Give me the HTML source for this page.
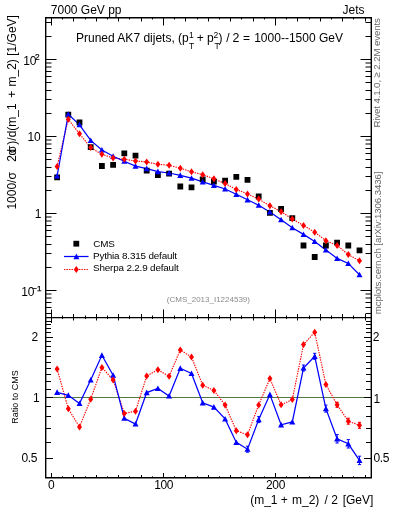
<!DOCTYPE html><html><head><meta charset="utf-8"><style>html,body{margin:0;padding:0;background:#fff;overflow:hidden}svg{display:block;will-change:transform}text{font-family:"Liberation Sans",sans-serif}</style></head><body>
<svg width="393" height="512" viewBox="0 0 393 512">
<path d="M45.5 397.5H371.5" stroke="#4f7a42" stroke-width="1.2" fill="none"/>
<path d="M51.5 17.5v8M51.5 317.5v-8M51.5 317.5v5.5M51.5 477.5v-4.5M62.5 17.5v2M62.5 317.5v-2M62.5 317.5v1.5M62.5 477.5v-1.2M73.5 17.5v4M73.5 317.5v-3.5M73.5 317.5v3M73.5 477.5v-2.5M85.5 17.5v2M85.5 317.5v-2M85.5 317.5v1.5M85.5 477.5v-1.2M96.5 17.5v4M96.5 317.5v-3.5M96.5 317.5v3M96.5 477.5v-2.5M107.5 17.5v2M107.5 317.5v-2M107.5 317.5v1.5M107.5 477.5v-1.2M118.5 17.5v4M118.5 317.5v-3.5M118.5 317.5v3M118.5 477.5v-2.5M129.5 17.5v2M129.5 317.5v-2M129.5 317.5v1.5M129.5 477.5v-1.2M141.5 17.5v4M141.5 317.5v-3.5M141.5 317.5v3M141.5 477.5v-2.5M152.5 17.5v2M152.5 317.5v-2M152.5 317.5v1.5M152.5 477.5v-1.2M163.5 17.5v8M163.5 317.5v-8M163.5 317.5v5.5M163.5 477.5v-4.5M174.5 17.5v2M174.5 317.5v-2M174.5 317.5v1.5M174.5 477.5v-1.2M185.5 17.5v4M185.5 317.5v-3.5M185.5 317.5v3M185.5 477.5v-2.5M197.5 17.5v2M197.5 317.5v-2M197.5 317.5v1.5M197.5 477.5v-1.2M208.5 17.5v4M208.5 317.5v-3.5M208.5 317.5v3M208.5 477.5v-2.5M219.5 17.5v2M219.5 317.5v-2M219.5 317.5v1.5M219.5 477.5v-1.2M230.5 17.5v4M230.5 317.5v-3.5M230.5 317.5v3M230.5 477.5v-2.5M241.5 17.5v2M241.5 317.5v-2M241.5 317.5v1.5M241.5 477.5v-1.2M253.5 17.5v4M253.5 317.5v-3.5M253.5 317.5v3M253.5 477.5v-2.5M264.5 17.5v2M264.5 317.5v-2M264.5 317.5v1.5M264.5 477.5v-1.2M275.5 17.5v8M275.5 317.5v-8M275.5 317.5v5.5M275.5 477.5v-4.5M286.5 17.5v2M286.5 317.5v-2M286.5 317.5v1.5M286.5 477.5v-1.2M297.5 17.5v4M297.5 317.5v-3.5M297.5 317.5v3M297.5 477.5v-2.5M309.5 17.5v2M309.5 317.5v-2M309.5 317.5v1.5M309.5 477.5v-1.2M320.5 17.5v4M320.5 317.5v-3.5M320.5 317.5v3M320.5 477.5v-2.5M331.5 17.5v2M331.5 317.5v-2M331.5 317.5v1.5M331.5 477.5v-1.2M342.5 17.5v4M342.5 317.5v-3.5M342.5 317.5v3M342.5 477.5v-2.5M353.5 17.5v2M353.5 317.5v-2M353.5 317.5v1.5M353.5 477.5v-1.2M365.5 17.5v4M365.5 317.5v-3.5M365.5 317.5v3M365.5 477.5v-2.5M45.5 313.5h6M371.5 313.5h-6M45.5 307.5h6M371.5 307.5h-6M45.5 302.5h6M371.5 302.5h-6M45.5 298.0h6M371.5 298.0h-6M45.5 294.0h6M371.5 294.0h-6M45.5 290.5h11M371.5 290.5h-11M45.5 267.5h6M371.5 267.5h-6M45.5 253.5h6M371.5 253.5h-6M45.5 244.5h6M371.5 244.5h-6M45.5 236.5h6M371.5 236.5h-6M45.5 230.5h6M371.5 230.5h-6M45.5 225.5h6M371.5 225.5h-6M45.5 221.0h6M371.5 221.0h-6M45.5 217.0h6M371.5 217.0h-6M45.5 213.5h11M371.5 213.5h-11M45.5 190.5h6M371.5 190.5h-6M45.5 176.5h6M371.5 176.5h-6M45.5 167.5h6M371.5 167.5h-6M45.5 159.5h6M371.5 159.5h-6M45.5 153.5h6M371.5 153.5h-6M45.5 148.5h6M371.5 148.5h-6M45.5 144.0h6M371.5 144.0h-6M45.5 140.0h6M371.5 140.0h-6M45.5 136.5h11M371.5 136.5h-11M45.5 113.5h6M371.5 113.5h-6M45.5 99.5h6M371.5 99.5h-6M45.5 90.5h6M371.5 90.5h-6M45.5 82.5h6M371.5 82.5h-6M45.5 76.5h6M371.5 76.5h-6M45.5 71.5h6M371.5 71.5h-6M45.5 67.0h6M371.5 67.0h-6M45.5 63.0h6M371.5 63.0h-6M45.5 59.5h11M371.5 59.5h-11M45.5 36.5h6M371.5 36.5h-6M45.5 22.5h6M371.5 22.5h-6M45.5 477.5h5.5M371.5 477.5h-5.5M45.5 458.5h7.5M371.5 458.5h-7.5M45.5 442.5h5.5M371.5 442.5h-5.5M45.5 428.5h5.5M371.5 428.5h-5.5M45.5 416.5h5.5M371.5 416.5h-5.5M45.5 406.5h5.5M371.5 406.5h-5.5M45.5 397.5h7.5M371.5 397.5h-7.5M45.5 389.5h5.5M371.5 389.5h-5.5M45.5 381.5h5.5M371.5 381.5h-5.5M45.5 374.5h5.5M371.5 374.5h-5.5M45.5 368.5h5.5M371.5 368.5h-5.5M45.5 362.5h5.5M371.5 362.5h-5.5M45.5 356.5h5.5M371.5 356.5h-5.5M45.5 351.5h5.5M371.5 351.5h-5.5M45.5 346.5h5.5M371.5 346.5h-5.5M45.5 341.5h5.5M371.5 341.5h-5.5M45.5 337.5h7.5M371.5 337.5h-7.5M45.5 332.5h5.5M371.5 332.5h-5.5M45.5 328.5h5.5M371.5 328.5h-5.5M45.5 324.5h5.5M371.5 324.5h-5.5M45.5 321.5h5.5M371.5 321.5h-5.5M45.5 317.5h5.5M371.5 317.5h-5.5" stroke="#000" stroke-width="1" fill="none"/>
<path d="M57.1 166.4 L68.3 119.3 L79.5 133.8 L90.7 147.6 L101.9 154.3 L113.1 158.0 L124.3 159.3 L135.5 160.9 L146.7 162.0 L157.9 164.2 L169.1 165.3 L180.3 168.2 L191.5 171.8 L202.7 174.7 L213.9 178.8 L225.1 183.5 L236.3 189.4 L247.5 194.0 L258.7 199.1 L269.9 205.7 L281.1 211.7 L292.3 218.9 L303.5 225.5 L314.7 232.2 L325.9 240.7 L337.1 245.4 L348.3 254.6 L359.5 260.8" stroke="#ff0000" stroke-width="1.15" stroke-dasharray="1.4 1.1" fill="none"/>
<path d="M57.1 176.0 L68.3 114.2 L79.5 124.8 L90.7 140.4 L101.9 150.0 L113.1 156.2 L124.3 161.2 L135.5 166.1 L146.7 168.6 L157.9 171.6 L169.1 173.0 L180.3 175.3 L191.5 178.2 L202.7 181.9 L213.9 185.4 L225.1 189.0 L236.3 194.3 L247.5 199.8 L258.7 205.2 L269.9 212.0 L281.1 219.7 L292.3 227.7 L303.5 234.4 L314.7 241.4 L325.9 249.9 L337.1 258.4 L348.3 263.4 L359.5 274.7" stroke="#0000ff" stroke-width="1.25" fill="none"/>
<path d="M57.1 368.9 L68.3 408.8 L79.5 426.9 L90.7 399.2 L101.9 367.4 L113.1 379.9 L124.3 413.4 L135.5 411.3 L146.7 376.0 L157.9 369.8 L169.1 376.2 L180.3 350.0 L191.5 357.0 L202.7 385.2 L213.9 390.5 L225.1 405.0 L236.3 430.8 L247.5 434.8 L258.7 404.9 L269.9 378.5 L281.1 404.8 L292.3 399.6 L303.5 344.6 L314.7 332.2 L325.9 384.5 L337.1 404.8 L348.3 421.2 L359.5 425.3" stroke="#ff0000" stroke-width="1.15" stroke-dasharray="1.4 1.1" fill="none"/>
<path d="M57.1 392.3 L68.3 395.3 L79.5 403.5 L90.7 380.0 L101.9 355.3 L113.1 375.2 L124.3 418.2 L135.5 424.0 L146.7 392.6 L157.9 388.5 L169.1 396.0 L180.3 368.3 L191.5 373.5 L202.7 402.8 L213.9 407.1 L225.1 418.9 L236.3 442.4 L247.5 449.2 L258.7 419.6 L269.9 394.6 L281.1 424.8 L292.3 421.9 L303.5 368.0 L314.7 356.3 L325.9 408.6 L337.1 438.8 L348.3 443.8 L359.5 460.4" stroke="#0000ff" stroke-width="1.25" fill="none"/>
<path d="M54.2 174.4h5.8v5.8h-5.8ZM65.4 111.8h5.8v5.8h-5.8ZM76.6 119.6h5.8v5.8h-5.8ZM87.8 144.3h5.8v5.8h-5.8ZM99.0 163.1h5.8v5.8h-5.8ZM110.2 161.9h5.8v5.8h-5.8ZM121.4 150.4h5.8v5.8h-5.8ZM132.6 152.7h5.8v5.8h-5.8ZM143.8 167.7h5.8v5.8h-5.8ZM155.0 172.2h5.8v5.8h-5.8ZM166.2 170.8h5.8v5.8h-5.8ZM177.4 183.6h5.8v5.8h-5.8ZM188.6 184.5h5.8v5.8h-5.8ZM199.8 176.5h5.8v5.8h-5.8ZM211.0 178.8h5.8v5.8h-5.8ZM222.2 177.7h5.8v5.8h-5.8ZM233.4 173.9h5.8v5.8h-5.8ZM244.6 177.0h5.8v5.8h-5.8ZM255.8 193.6h5.8v5.8h-5.8ZM267.0 209.9h5.8v5.8h-5.8ZM278.2 206.1h5.8v5.8h-5.8ZM289.4 215.3h5.8v5.8h-5.8ZM300.6 242.6h5.8v5.8h-5.8ZM311.8 254.1h5.8v5.8h-5.8ZM323.0 242.6h5.8v5.8h-5.8ZM334.2 239.8h5.8v5.8h-5.8ZM345.4 242.6h5.8v5.8h-5.8ZM356.6 247.4h5.8v5.8h-5.8Z" fill="#000"/>
<path d="M57.1 173.0L60.1 178.6L54.1 178.6ZM68.3 111.2L71.3 116.8L65.3 116.8ZM79.5 121.8L82.5 127.3L76.5 127.3ZM90.7 137.4L93.7 143.0L87.7 143.0ZM101.9 147.0L104.9 152.6L98.9 152.6ZM113.1 153.2L116.1 158.8L110.1 158.8ZM124.3 158.2L127.3 163.8L121.3 163.8ZM135.5 163.1L138.5 168.7L132.5 168.7ZM146.7 165.6L149.7 171.2L143.7 171.2ZM157.9 168.6L160.9 174.2L154.9 174.2ZM169.1 170.0L172.1 175.6L166.1 175.6ZM180.3 172.3L183.3 177.9L177.3 177.9ZM191.5 175.2L194.5 180.8L188.5 180.8ZM202.7 178.9L205.7 184.5L199.7 184.5ZM213.9 182.4L216.9 188.0L210.9 188.0ZM225.1 186.0L228.1 191.6L222.1 191.6ZM236.3 191.3L239.3 196.9L233.3 196.9ZM247.5 196.8L250.5 202.4L244.5 202.4ZM258.7 202.2L261.7 207.8L255.7 207.8ZM269.9 209.0L272.9 214.6L266.9 214.6ZM281.1 216.7L284.1 222.2L278.1 222.2ZM292.3 224.7L295.3 230.2L289.3 230.2ZM303.5 231.4L306.5 237.0L300.5 237.0ZM314.7 238.4L317.7 244.0L311.7 244.0ZM325.9 246.9L328.9 252.5L322.9 252.5ZM337.1 255.4L340.1 260.9L334.1 260.9ZM348.3 260.4L351.3 265.9L345.3 265.9ZM359.5 271.7L362.5 277.2L356.5 277.2Z" fill="#0000ff"/>
<path d="M57.1 162.9L59.6 166.4L57.1 169.9L54.6 166.4ZM68.3 115.8L70.8 119.3L68.3 122.8L65.8 119.3ZM79.5 130.3L82.0 133.8L79.5 137.3L77.0 133.8ZM90.7 144.1L93.2 147.6L90.7 151.1L88.2 147.6ZM101.9 150.8L104.4 154.3L101.9 157.8L99.4 154.3ZM113.1 154.5L115.6 158.0L113.1 161.5L110.6 158.0ZM124.3 155.8L126.8 159.3L124.3 162.8L121.8 159.3ZM135.5 157.4L138.0 160.9L135.5 164.4L133.0 160.9ZM146.7 158.5L149.2 162.0L146.7 165.5L144.2 162.0ZM157.9 160.7L160.4 164.2L157.9 167.7L155.4 164.2ZM169.1 161.8L171.6 165.3L169.1 168.8L166.6 165.3ZM180.3 164.7L182.8 168.2L180.3 171.7L177.8 168.2ZM191.5 168.3L194.0 171.8L191.5 175.3L189.0 171.8ZM202.7 171.2L205.2 174.7L202.7 178.2L200.2 174.7ZM213.9 175.3L216.4 178.8L213.9 182.3L211.4 178.8ZM225.1 180.0L227.6 183.5L225.1 187.0L222.6 183.5ZM236.3 185.9L238.8 189.4L236.3 192.9L233.8 189.4ZM247.5 190.5L250.0 194.0L247.5 197.5L245.0 194.0ZM258.7 195.6L261.2 199.1L258.7 202.6L256.2 199.1ZM269.9 202.2L272.4 205.7L269.9 209.2L267.4 205.7ZM281.1 208.2L283.6 211.7L281.1 215.2L278.6 211.7ZM292.3 215.4L294.8 218.9L292.3 222.4L289.8 218.9ZM303.5 222.0L306.0 225.5L303.5 229.0L301.0 225.5ZM314.7 228.7L317.2 232.2L314.7 235.7L312.2 232.2ZM325.9 237.2L328.4 240.7L325.9 244.2L323.4 240.7ZM337.1 241.9L339.6 245.4L337.1 248.9L334.6 245.4ZM348.3 251.1L350.8 254.6L348.3 258.1L345.8 254.6ZM359.5 257.3L362.0 260.8L359.5 264.3L357.0 260.8Z" fill="#ff0000"/>
<path d="M247.5 446.2V452.2M245.9 446.2h3.2M245.9 452.2h3.2M258.7 416.6V422.6M257.1 416.6h3.2M257.1 422.6h3.2M303.5 365.0V371.0M301.9 365.0h3.2M301.9 371.0h3.2M314.7 353.3V359.3M313.1 353.3h3.2M313.1 359.3h3.2M325.9 405.1V412.1M324.3 405.1h3.2M324.3 412.1h3.2M337.1 434.6V443.0M335.5 434.6h3.2M335.5 443.0h3.2M348.3 439.6V448.0M346.7 439.6h3.2M346.7 448.0h3.2M359.5 456.2V464.6M357.9 456.2h3.2M357.9 464.6h3.2" stroke="#0000ff" stroke-width="1" fill="none"/>
<path d="M337.1 402.3V407.3M335.5 402.3h3.2M335.5 407.3h3.2M348.3 418.2V424.2M346.7 418.2h3.2M346.7 424.2h3.2M359.5 422.3V428.3M357.9 422.3h3.2M357.9 428.3h3.2" stroke="#ff0000" stroke-width="1" fill="none"/>
<path d="M57.1 389.3L60.1 394.9L54.1 394.9ZM68.3 392.3L71.3 397.9L65.3 397.9ZM79.5 400.5L82.5 406.1L76.5 406.1ZM90.7 377.0L93.7 382.6L87.7 382.6ZM101.9 352.3L104.9 357.9L98.9 357.9ZM113.1 372.2L116.1 377.8L110.1 377.8ZM124.3 415.2L127.3 420.8L121.3 420.8ZM135.5 421.0L138.5 426.6L132.5 426.6ZM146.7 389.6L149.7 395.2L143.7 395.2ZM157.9 385.5L160.9 391.1L154.9 391.1ZM169.1 393.0L172.1 398.6L166.1 398.6ZM180.3 365.3L183.3 370.9L177.3 370.9ZM191.5 370.5L194.5 376.1L188.5 376.1ZM202.7 399.8L205.7 405.4L199.7 405.4ZM213.9 404.1L216.9 409.7L210.9 409.7ZM225.1 415.9L228.1 421.4L222.1 421.4ZM236.3 439.4L239.3 444.9L233.3 444.9ZM247.5 446.2L250.5 451.8L244.5 451.8ZM258.7 416.6L261.7 422.2L255.7 422.2ZM269.9 391.6L272.9 397.2L266.9 397.2ZM281.1 421.8L284.1 427.4L278.1 427.4ZM292.3 418.9L295.3 424.4L289.3 424.4ZM303.5 365.0L306.5 370.6L300.5 370.6ZM314.7 353.3L317.7 358.9L311.7 358.9ZM325.9 405.6L328.9 411.2L322.9 411.2ZM337.1 435.8L340.1 441.4L334.1 441.4ZM348.3 440.8L351.3 446.4L345.3 446.4ZM359.5 457.4L362.5 462.9L356.5 462.9Z" fill="#0000ff"/>
<path d="M57.1 365.4L59.6 368.9L57.1 372.4L54.6 368.9ZM68.3 405.3L70.8 408.8L68.3 412.3L65.8 408.8ZM79.5 423.4L82.0 426.9L79.5 430.4L77.0 426.9ZM90.7 395.7L93.2 399.2L90.7 402.7L88.2 399.2ZM101.9 363.9L104.4 367.4L101.9 370.9L99.4 367.4ZM113.1 376.4L115.6 379.9L113.1 383.4L110.6 379.9ZM124.3 409.9L126.8 413.4L124.3 416.9L121.8 413.4ZM135.5 407.8L138.0 411.3L135.5 414.8L133.0 411.3ZM146.7 372.5L149.2 376.0L146.7 379.5L144.2 376.0ZM157.9 366.3L160.4 369.8L157.9 373.3L155.4 369.8ZM169.1 372.7L171.6 376.2L169.1 379.7L166.6 376.2ZM180.3 346.5L182.8 350.0L180.3 353.5L177.8 350.0ZM191.5 353.5L194.0 357.0L191.5 360.5L189.0 357.0ZM202.7 381.7L205.2 385.2L202.7 388.7L200.2 385.2ZM213.9 387.0L216.4 390.5L213.9 394.0L211.4 390.5ZM225.1 401.5L227.6 405.0L225.1 408.5L222.6 405.0ZM236.3 427.3L238.8 430.8L236.3 434.3L233.8 430.8ZM247.5 431.3L250.0 434.8L247.5 438.3L245.0 434.8ZM258.7 401.4L261.2 404.9L258.7 408.4L256.2 404.9ZM269.9 375.0L272.4 378.5L269.9 382.0L267.4 378.5ZM281.1 401.3L283.6 404.8L281.1 408.3L278.6 404.8ZM292.3 396.1L294.8 399.6L292.3 403.1L289.8 399.6ZM303.5 341.1L306.0 344.6L303.5 348.1L301.0 344.6ZM314.7 328.7L317.2 332.2L314.7 335.7L312.2 332.2ZM325.9 381.0L328.4 384.5L325.9 388.0L323.4 384.5ZM337.1 401.3L339.6 404.8L337.1 408.3L334.6 404.8ZM348.3 417.7L350.8 421.2L348.3 424.7L345.8 421.2ZM359.5 421.8L362.0 425.3L359.5 428.8L357.0 425.3Z" fill="#ff0000"/>
<path d="M45.7 17.7H371.3V477.7H45.7Z M45.7 317.6H371.3" stroke="#000" stroke-width="1.4" fill="none"/>
<path d="M73.4 240.8h5.8v5.8h-5.8Z" fill="#000"/>
<path d="M64 256.5H88.5" stroke="#0000ff" stroke-width="1.25"/>
<path d="M76.4 253.6L79.4 259.2L73.4 259.2Z" fill="#0000ff"/>
<path d="M64 269.5H88.5" stroke="#ff0000" stroke-width="1.15" stroke-dasharray="1.4 1.1"/>
<path d="M76.3 266.0L78.8 269.5L76.3 273.0L73.8 269.5Z" fill="#ff0000"/>
<g font-size="9.9" fill="#000" letter-spacing="-0.17">
<text x="93.2" y="247.2">CMS</text>
<text x="93" y="258.8">Pythia 8.315 default</text>
<text x="93" y="271">Sherpa 2.2.9 default</text>
</g>
<text x="166.8" y="301.6" font-size="8" fill="#8a8a8a">(CMS_2013_I1224539)</text>
<text x="50.8" y="14" font-size="12">7000 GeV pp</text>
<text x="342.6" y="14.3" font-size="12">Jets</text>
<g font-size="12">
<text x="76" y="41.5">Pruned AK7 dijets, (p</text>
<text x="196.8" y="41.5">+</text>
<text x="207" y="41.5">p</text>
<text x="218.5" y="41.5">)</text>
<text x="226.2" y="41.5">/</text>
<text x="232.6" y="41.5" font-size="12.4">2</text>
<text x="242.9" y="41.5">=</text>
<text x="254.2" y="41.5">1000--1500 GeV</text>
</g>
<g font-size="8.5">
<text x="189" y="38">1</text><text x="213.4" y="38">2</text>
<text x="189" y="48.7" font-size="8.6">T</text><text x="214.5" y="48.7" font-size="8.6">T</text>
</g>
<g font-size="12" letter-spacing="-0.3">
<text x="23.3" y="64.8">10</text><text x="35" y="59.9" font-size="8.3" stroke="#000" stroke-width="0.2">2</text>
<text x="27.6" y="141">10</text>
<text x="34.8" y="217.8">1</text>
<text x="21.3" y="296">10</text><text x="32.6" y="290.8" font-size="8" stroke="#000" stroke-width="0.25">−1</text>
</g>
<g font-size="12" letter-spacing="-0.3">
<text x="31.6" y="341">2</text>
<text x="33" y="402">1</text>
<text x="21.4" y="462">0.5</text>
<text x="372.8" y="341">2</text>
<text x="373.6" y="402.5">1</text>
<text x="373.4" y="462">0.5</text>
</g>
<g font-size="12" letter-spacing="-0.3" text-anchor="middle">
<text x="51.3" y="488.9">0</text><text x="163.7" y="488.9">100</text><text x="275.5" y="488.9">200</text>
</g>
<g font-size="12">
<text x="250.2" y="503.8">(m_1</text>
<text x="280.8" y="503.8">+</text>
<text x="292" y="503.8">m_2)</text>
<text x="324.5" y="503.8">/</text>
<text x="331.2" y="503.8">2</text>
<text x="342.7" y="503.8">[GeV]</text>
</g>
<text transform="translate(16.3,209.6) rotate(-90)" font-size="12">1000/σ</text>
<text transform="translate(16.3,161.8) rotate(-90)" font-size="12">2</text>
<text transform="translate(16.3,155.5) rotate(-90)" font-size="12">d</text>
<text transform="translate(16.3,153) rotate(-90)" font-size="12">σ</text>
<text transform="translate(16.3,144.7) rotate(-90)" font-size="12">)/d(m_1</text>
<text transform="translate(16.3,97.8) rotate(-90)" font-size="12">+</text>
<text transform="translate(16.3,86.5) rotate(-90)" font-size="12">m_2)</text>
<text transform="translate(16.3,55.8) rotate(-90)" font-size="12">[1/GeV]</text>
<text transform="translate(18.3,423.8) rotate(-90)" font-size="9">Ratio to CMS</text>
<text transform="translate(380.3,127.6) rotate(-90)" font-size="9.7" fill="#666" letter-spacing="-0.12">Rivet 4.1.0, ≥ 2.2M events</text>
<text transform="translate(381.1,314.2) rotate(-90)" font-size="9.7" fill="#666" letter-spacing="-0.12">mcplots.cern.ch [arXiv:1306.3436]</text>
</svg></body></html>
